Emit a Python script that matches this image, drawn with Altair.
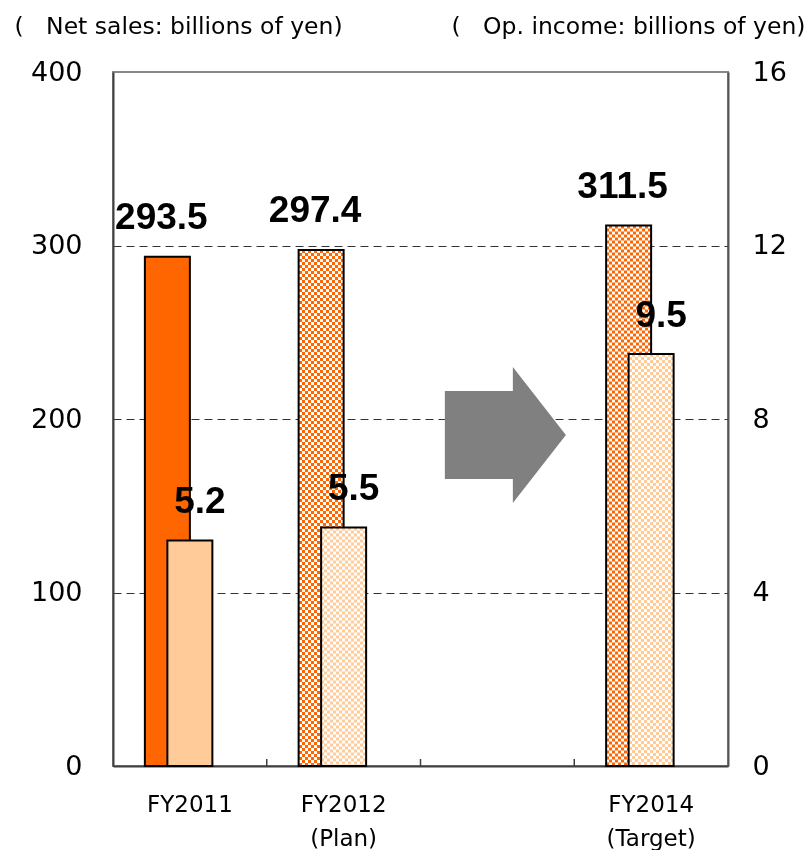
import altair as alt
import pandas as pd

# Fiscal years on the x axis; "|" breaks a label over two lines, " " is an empty slot
categories = ["FY2011", "FY2012|(Plan)", " ", "FY2014|(Target)"]
bar_years = ["FY2011", "FY2012|(Plan)", "FY2014|(Target)"]
status = ["Actual", "Plan", "Target"]
net_sales = [293.5, 297.4, 311.5]   # billions of yen (left axis)
op_income = [5.2, 5.5, 9.5]         # billions of yen (right axis)
sales_ticks = [0, 100, 200, 300, 400]
income_ticks = [0, 4, 8, 12, 16]

df = pd.DataFrame({"year": bar_years, "status": status,
                   "sales": net_sales, "income": op_income})
tick_df = pd.DataFrame({"year": categories[1:]})
arrow_df = pd.DataFrame({"year": [" "]})

FONT = "DejaVu Sans"
VALUE_FONT = "Liberation Sans"
W, H = 615, 694
BAR_W = 45
SALES_SHIFT = -22.5
CELLS = 15
CELL = BAR_W / CELLS
SALES_ORANGE = "#FF6600"
INCOME_PEACH = "#FFCC99"

# black/white vertical stripes; a dashed white rule blended with "difference"
# turns them into a checkerboard, which "screen" then tints
stops = []
for k in range(CELLS):
    c = "black" if k % 2 == 0 else "white"
    stops.append(alt.GradientStop(offset=k / CELLS, color=c))
    stops.append(alt.GradientStop(offset=(k + 1) / CELLS, color=c))
stripes = alt.LinearGradient(gradient="linear", stops=stops, x1=0, x2=1, y1=0, y2=0)

ARROW = ("M -0.89 -0.647 L 0.11 -0.647 L 0.11 -1 L 0.89 0 "
         "L 0.11 1 L 0.11 0.647 L -0.89 0.647 Z")

x_scale = alt.Scale(domain=categories, paddingInner=0, paddingOuter=0)
x_axis = alt.Axis(title=None, labelExpr="split(datum.label, '|')", labelAngle=0,
                  labelFont=FONT, labelFontSize=23, labelColor="black",
                  labelLineHeight=34, labelPadding=27, ticks=False, grid=False,
                  domainColor="#404040", domainWidth=2)
x_enc = alt.X("year:N", scale=x_scale, axis=x_axis)

sales_scale = alt.Scale(domain=[0, 400])
sales_axis = alt.Axis(values=sales_ticks, ticks=False,
                      title="(\u00a0\u00a0\u00a0Net sales: billions of yen)",
                      titleAngle=0, titleAlign="left", titleBaseline="alphabetic",
                      titleX=-99, titleY=-39, titleFont=FONT, titleFontSize=23.5,
                      titleFontWeight="normal", titleColor="black",
                      labelFont=FONT, labelFontSize=27, labelColor="black", labelPadding=31,
                      domainColor="#404040", domainWidth=2,
                      grid=True, gridColor="#333333", gridDash=[8, 5], gridWidth=1,
                      gridOpacity={"condition": {"test": "datum.value <= 0 || datum.value >= 400",
                                                 "value": 0}, "value": 1})
y_sales = alt.Y("sales:Q", scale=sales_scale, axis=sales_axis)

income_scale = alt.Scale(domain=[0, 16])
income_axis = alt.Axis(orient="right", values=income_ticks, ticks=False, grid=False,
                       title="(\u00a0\u00a0\u00a0Op. income: billions of yen)",
                       titleAngle=0, titleAlign="left", titleBaseline="alphabetic",
                       titleX=-277, titleY=-39, titleFont=FONT, titleFontSize=23.5,
                       titleFontWeight="normal", titleColor="black",
                       labelFont=FONT, labelFontSize=27, labelColor="black", labelPadding=24,
                       domainColor="#555555", domainWidth=2)
y_income = alt.Y("income:Q", scale=income_scale, axis=income_axis)


def bar_group(field, y_enc, color, shift, label_dx, label_dy):
    base = alt.Chart(df).encode(x=x_enc, y=y_enc)
    actual = base.transform_filter("datum.status == 'Actual'")
    planned = base.transform_filter("datum.status != 'Actual'")
    solid = actual.mark_bar(width=BAR_W, xOffset=shift, fill=color,
                            stroke="black", strokeWidth=2)
    checker_base = planned.mark_bar(width=BAR_W, xOffset=shift, fill=stripes, strokeWidth=0)
    checker_rows = planned.mark_rule(xOffset=shift, strokeWidth=BAR_W, color="white",
                                     strokeDash=[CELL, CELL], blend="difference",
                                     strokeCap="butt").encode(y2=alt.datum(0))
    checker_tint = planned.mark_bar(width=BAR_W, xOffset=shift, fill=color,
                                    strokeWidth=0, blend="screen")
    outline = planned.mark_bar(width=BAR_W, xOffset=shift, fillOpacity=0,
                               stroke="black", strokeWidth=2)
    labels = base.mark_text(font=VALUE_FONT, fontSize=37, fontWeight="bold", color="black",
                            baseline="alphabetic", dx=label_dx, dy=label_dy).encode(
        text=alt.Text(f"{field}:Q", format=".1f"))
    return [solid, checker_base, checker_rows, checker_tint, outline, labels]


# tick marks at the slot boundaries, pointing into the plot
x_ticks = alt.Chart(tick_df).mark_rule(color="#404040", strokeWidth=1.5).encode(
    x=alt.X("year:N", scale=x_scale, axis=x_axis, bandPosition=0),
    y=alt.value(H), y2=alt.value(H - 7))

arrow = alt.Chart(arrow_df).mark_point(shape=ARROW, size=18496, filled=True,
                                       fill="#808080", opacity=1, strokeWidth=0,
                                       xOffset=8).encode(
    x=x_enc,
    y=alt.Y(datum=190.8, type="quantitative", scale=sales_scale, axis=sales_axis))

sales_layer = alt.layer(x_ticks, arrow,
                        *bar_group("sales", y_sales, SALES_ORANGE, SALES_SHIFT, -28.5, -28))
income_layer = alt.layer(*bar_group("income", y_income, INCOME_PEACH, 0, 10, -27))

chart = (
    alt.layer(sales_layer, income_layer)
    .resolve_scale(y="independent")
    .properties(width=W, height=H,
                autosize=alt.AutoSizeParams(type="none"),
                padding={"left": 113, "top": 72, "right": 81, "bottom": 84})
    .configure(font=FONT)
    .configure_view(stroke="#888888", strokeWidth=2)
)

chart.save("out.html", embed_options={"renderer": "svg", "actions": False})
